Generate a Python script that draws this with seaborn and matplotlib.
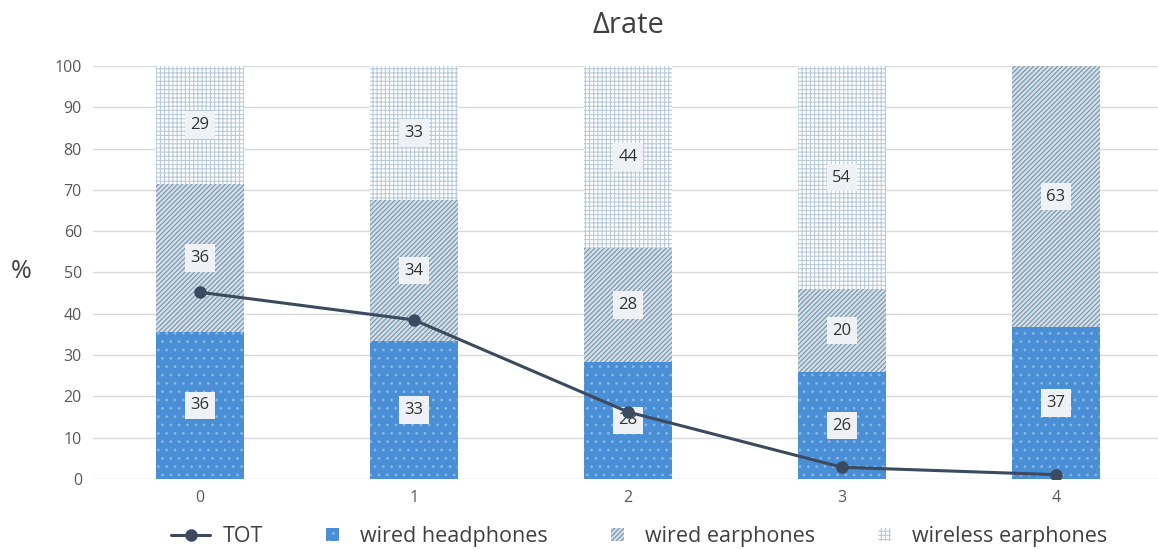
import matplotlib
matplotlib.use("Agg")
import matplotlib.pyplot as plt
import seaborn as sns
import numpy as np
import pandas as pd
from matplotlib.patches import Patch, Rectangle
from matplotlib.lines import Line2D
from matplotlib.legend_handler import HandlerPatch

categories = ["0", "1", "2", "3", "4"]
wired_headphones = [35.6, 33.4, 28.3, 25.8, 36.8]
wired_earphones = [35.8, 34.1, 27.7, 20.2, 63.2]
wireless_earphones = [28.6, 32.6, 44.0, 54.0, 0.0]
tot = [45.2, 38.5, 16.2, 2.8, 1.0]
yticks = [0, 10, 20, 30, 40, 50, 60, 70, 80, 90, 100]

sns.set_theme(style="white")
plt.rcParams["font.family"] = ["Open Sans", "DejaVu Sans"]
plt.rcParams["hatch.linewidth"] = 0.8

fig = plt.figure(figsize=(11.58, 5.51), dpi=100)
ax = fig.add_axes([0.0803, 0.131, 0.924, 0.749])

h = np.array(wired_headphones)
e = np.array(wired_earphones)
w = np.array(wireless_earphones)
cum1 = h
cum2 = h + e
cum3 = h + e + w
df = pd.DataFrame({"cat": categories, "c1": cum1, "c2": cum2, "c3": cum3})

bw = 0.407
sns.barplot(data=df, x="cat", y="c3", ax=ax, color="#ffffff", width=bw,
            edgecolor="#b9cbdb", linewidth=0, hatch="++++", saturation=1, zorder=2)
sns.barplot(data=df, x="cat", y="c2", ax=ax, color="#d2dee8", width=bw,
            edgecolor="#7893a8", linewidth=0, hatch="///////", saturation=1, zorder=2)
sns.barplot(data=df, x="cat", y="c1", ax=ax, color="#4a8fd5", width=bw,
            edgecolor="#86b6e6", linewidth=0, hatch="..", saturation=1, zorder=2)

for p in ax.patches:
    p.set_linewidth(0)

# value labels
box = dict(boxstyle="square,pad=0.35", facecolor="#eef2f7", edgecolor="none")
for i in range(len(categories)):
    segs = [(0, h[i]), (h[i], e[i]), (h[i] + e[i], w[i])]
    for base, val in segs:
        if val <= 0:
            continue
        ax.text(i, base + val / 2, f"{round(val):d}", ha="center", va="center",
                fontsize=12, color="#333333", bbox=box, zorder=5)

xs = np.arange(len(categories))
sns.lineplot(x=xs, y=tot, ax=ax, color="#3b4a5f", linewidth=2.2, marker="o",
             markersize=9, markeredgewidth=0, zorder=6)

ax.set_xlim(-0.5, 4.5)
ax.set_ylim(0, 100)
ax.set_yticks(yticks)
ax.yaxis.grid(True, color="#d9d9d9", linewidth=1)
ax.set_axisbelow(True)
for s in ax.spines.values():
    s.set_visible(False)
ax.tick_params(axis="both", length=0, labelsize=11.5, labelcolor="#595959", pad=8)
ax.set_xlabel("")
ax.set_ylabel("")
fig.text(0.018, 0.508, "%", fontsize=18, color="#404040", ha="center", va="center")
ax.set_title("Δrate", fontsize=21, color="#404040", pad=24)


class SmallSquare(HandlerPatch):
    def create_artists(self, legend, orig_handle, xdescent, ydescent, width,
                       height, fontsize, trans):
        s = 9.0
        x0 = -xdescent + width - s - 6
        r = Rectangle((x0, -ydescent + (height - s) / 2), s, s,
                      facecolor=orig_handle.get_facecolor(),
                      edgecolor=orig_handle.get_edgecolor(),
                      hatch=orig_handle.get_hatch(), linewidth=0, transform=trans)
        return [r]


handles = [
    Line2D([0], [0], color="#3b4a5f", linewidth=2.2, marker="o", markersize=8),
    Patch(facecolor="#4a8fd5", edgecolor="#86b6e6", hatch="..", linewidth=0),
    Patch(facecolor="#d2dee8", edgecolor="#7893a8", hatch="///////", linewidth=0),
    Patch(facecolor="#ffffff", edgecolor="#b9cbdb", hatch="++++", linewidth=0),
]
labels = ["TOT", "wired headphones", "wired earphones", "wireless earphones"]
fig.legend(handles, labels, loc="lower center", bbox_to_anchor=(0.552, -0.028), ncol=4,
           frameon=False, fontsize=15.5, handlelength=1.8, columnspacing=2.1,
           handletextpad=0.6, handleheight=0.7, labelcolor="#404040",
           handler_map={Patch: SmallSquare()})

fig.savefig("out.png", dpi=100)
